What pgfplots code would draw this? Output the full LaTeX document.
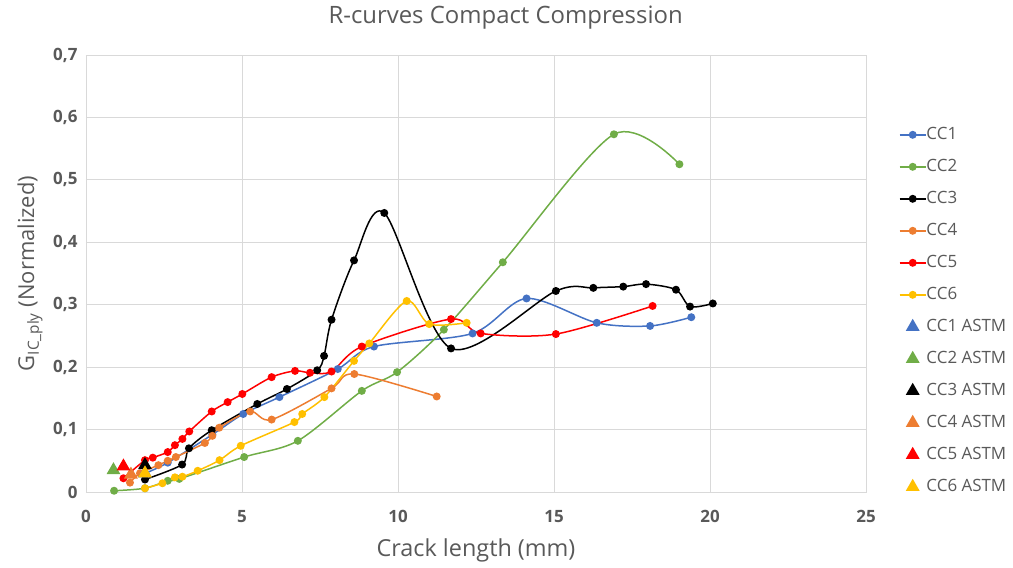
\documentclass[border=0pt]{standalone}
\usepackage{fontspec}
\setmainfont{Open Sans}
\usepackage{pgfplots}
\pgfplotsset{compat=1.18}
\definecolor{cA}{HTML}{4472C4}
\definecolor{cB}{HTML}{70AD47}
\definecolor{cC}{HTML}{000000}
\definecolor{cD}{HTML}{ED7D31}
\definecolor{cE}{HTML}{FF0000}
\definecolor{cF}{HTML}{FFC000}
\definecolor{gridgray}{HTML}{D9D9D9}
\definecolor{textgray}{HTML}{595959}
\begin{document}
\begin{tikzpicture}
\path[use as bounding box] (-86bp,-76bp) rectangle (927bp,492bp);
\begin{axis}[
  at={(0,0)}, anchor=south west,
  scale only axis, width=780bp, height=437bp,
  xmin=0, xmax=25, ymin=0, ymax=0.7,
  clip=false,
  xtick={0,5,10,15,20,25},
  ytick={0,0.1,0.2,0.3,0.4,0.5,0.6,0.7},
  grid=major,
  grid style={draw=gridgray, line width=0.8bp},
  axis line style={draw=gridgray, line width=0.8bp},
  tick style={draw=none}, major tick length=0pt,
  /pgf/number format/assume math mode=true,
  yticklabel={\pgfmathprintnumber[fixed,precision=1,use comma]{\tick}},
  xticklabel={\pgfmathprintnumber{\tick}},
  ticklabel style={font=\fontsize{17}{17}\selectfont\bfseries, text=textgray},
  yticklabel style={xshift=-5bp},
  xticklabel style={yshift=-15bp},
  xlabel={Crack length (mm)},
  ylabel={G\textsubscript{IC\_ply} (Normalized)},
  every axis x label/.style={at={(rel axis cs:0.5,0)}, yshift=-58bp, anchor=center, font=\fontsize{23.5}{23.5}\selectfont, text=textgray},
  every axis y label/.style={at={(rel axis cs:0,0.5)}, xshift=-56bp, rotate=90, anchor=center, font=\fontsize{22}{22}\selectfont, text=textgray},
  title={R-curves Compact Compression},
  every axis title/.style={at={(rel axis cs:0.538,1)}, yshift=37bp, anchor=center, font=\fontsize{24}{24}\selectfont, text=textgray},
  legend image code/.code={\draw[mark repeat=2,mark phase=2,#1] plot coordinates {(0bp,0bp) (13bp,0bp) (26bp,0bp)};},
  legend cell align=left,
  legend style={at={(rel axis cs:1.042,0.835)}, anchor=north west, draw=none, fill=none, inner sep=0pt,
    font=\fontsize{17}{17}\selectfont, text=textgray, row sep=17bp,
    nodes={inner sep=0pt, text height=12bp, text depth=3bp},
    /tikz/every even column/.append style={column sep=4bp}},
  every axis plot/.append style={line width=1.5bp, mark size=3.2bp},
]
\addplot[cA, smooth, mark=*] coordinates {
(1.9,0.030) (2.62,0.047) (4.05,0.092) (5.04,0.125) (6.2,0.152) (8.07,0.197) (9.23,0.233) (12.39,0.254) (14.12,0.310) (16.37,0.271) (18.08,0.266) (19.40,0.280)};
\addplot[cB, smooth, mark=*] coordinates {
(0.90,0.002) (1.89,0.006) (2.62,0.018) (2.99,0.021) (5.07,0.056) (6.79,0.082) (8.84,0.162) (9.97,0.192) (11.47,0.260) (13.36,0.368) (16.92,0.573) (19.02,0.525)};
\addplot[cC, smooth, mark=*] coordinates {
(1.89,0.020) (3.08,0.044) (3.30,0.070) (4.03,0.099) (5.49,0.141) (6.44,0.165) (7.41,0.195) (7.63,0.218) (7.87,0.276) (8.59,0.371) (9.56,0.447) (11.70,0.230) (15.06,0.322) (16.26,0.327) (17.22,0.329) (17.95,0.333) (18.91,0.324) (19.36,0.297) (20.09,0.302)};
\addplot[cD, smooth, mark=*] coordinates {
(1.41,0.015) (1.73,0.030) (2.32,0.043) (2.62,0.050) (2.88,0.056) (3.81,0.0785) (4.05,0.090) (4.27,0.103) (5.26,0.129) (5.95,0.116) (7.87,0.166) (8.60,0.189) (11.24,0.153)};
\addplot[cE, smooth, mark=*] coordinates {
(1.20,0.022) (1.89,0.051) (2.14,0.055) (2.62,0.064) (2.85,0.075) (3.09,0.085) (3.31,0.097) (4.03,0.129) (4.54,0.144) (5.01,0.157) (5.95,0.184) (6.70,0.194) (7.18,0.191) (7.87,0.193) (8.84,0.233) (11.70,0.277) (12.65,0.254) (15.06,0.253) (18.16,0.298)};
\addplot[cF, smooth, mark=*] coordinates {
(1.89,0.006) (2.45,0.014) (2.85,0.0235) (3.09,0.0245) (3.58,0.034) (4.28,0.051) (4.96,0.074) (6.68,0.112) (6.93,0.125) (7.64,0.152) (8.59,0.210) (9.08,0.238) (10.28,0.306) (11.00,0.269) (12.20,0.271)};
\addplot[cA, only marks, mark=triangle*, mark size=6.5bp] coordinates {(1.89,0.030)};
\addplot[cB, only marks, mark=triangle*, mark size=6.5bp] coordinates {(0.88,0.035)};
\addplot[cC, only marks, mark=triangle*, mark size=6.5bp] coordinates {(1.89,0.043)};
\addplot[cD, only marks, mark=triangle*, mark size=6.5bp] coordinates {(1.44,0.028)};
\addplot[cE, only marks, mark=triangle*, mark size=6.5bp] coordinates {(1.20,0.041)};
\addplot[cF, only marks, mark=triangle*, mark size=6.5bp] coordinates {(1.89,0.030)};
\legend{CC1,CC2,CC3,CC4,CC5,CC6,CC1 ASTM,CC2 ASTM,CC3 ASTM,CC4 ASTM,CC5 ASTM,CC6 ASTM}
\end{axis}
\end{tikzpicture}
\end{document}
